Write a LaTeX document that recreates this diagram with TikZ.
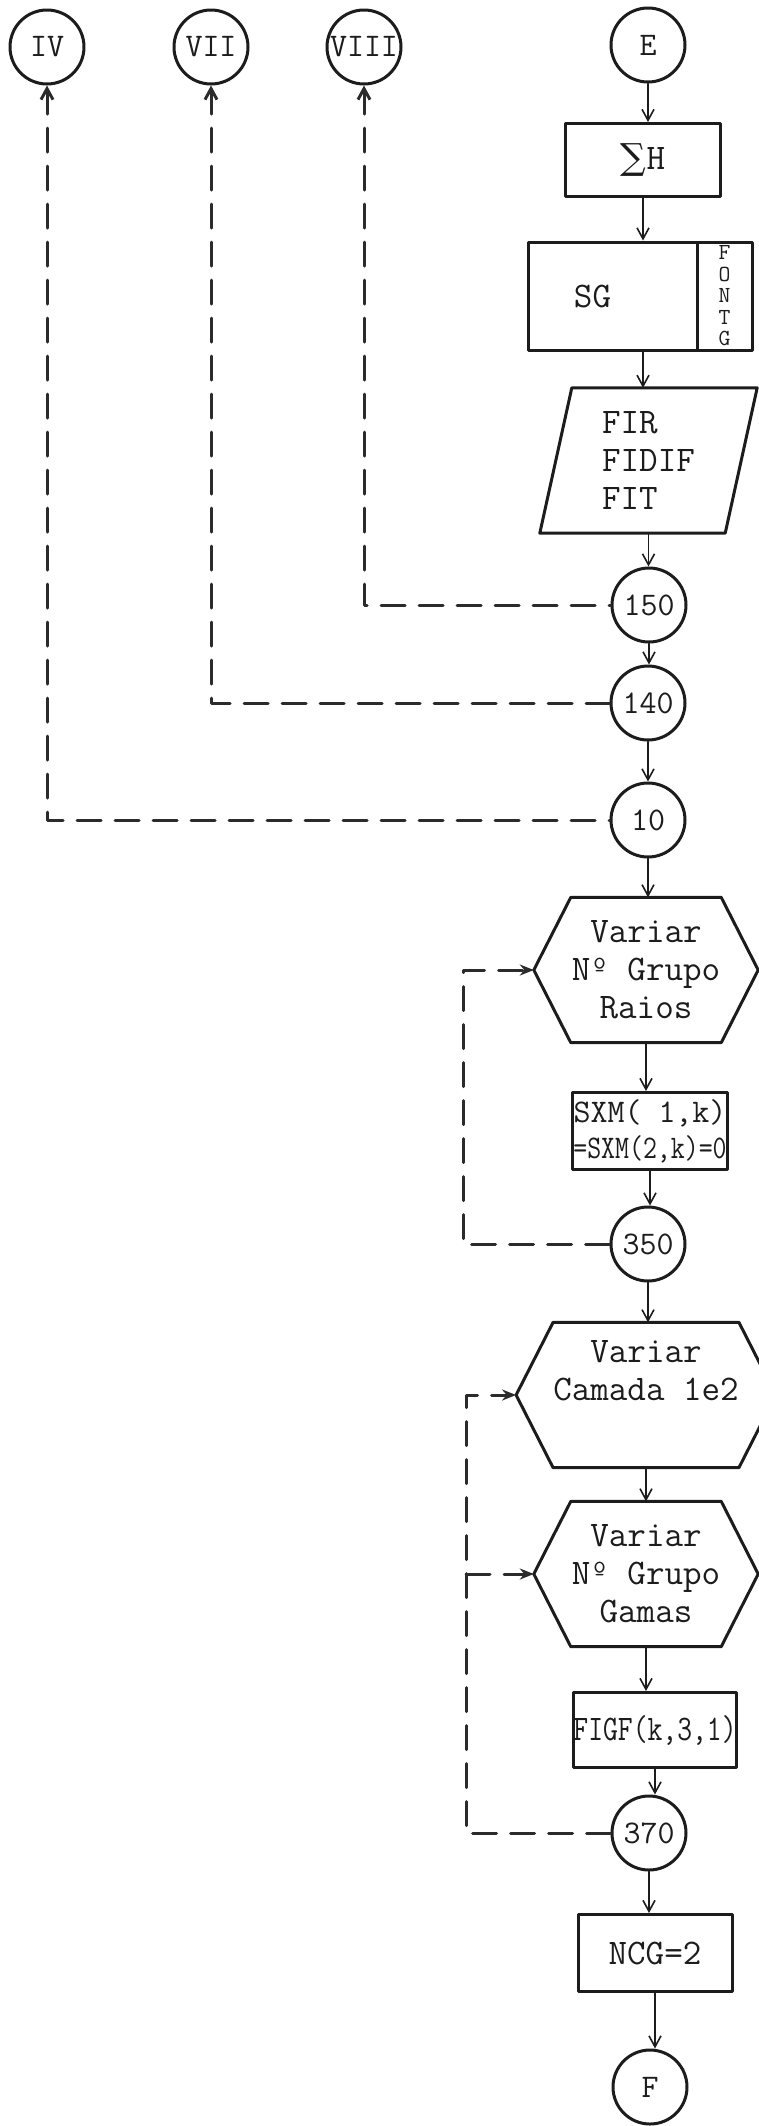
\documentclass[tikz,border=0pt]{standalone}
\usepackage{fontspec}
\usepackage{graphicx,xcolor,tikz}
\usetikzlibrary{arrows.meta,calc}
\newfontfamily\sumfont{DejaVu Serif}
\definecolor{fcInk}{HTML}{1C1C1C}
\definecolor{fcDash}{HTML}{2B2B2B}
\tikzset{
 chart/.style={line cap=round,line join=round,text=fcInk,font=\fontsize{36}{38}\selectfont\ttfamily},
 term/.style={circle,draw=fcInk,line width=3pt,inner sep=0pt,minimum size=74pt,
   font=\fontsize{33}{36}\selectfont\ttfamily},
 proc/.style={rectangle,draw=fcInk,line width=3pt,inner sep=0pt,align=center},
 hexbody/.style={rectangle,inner sep=0pt,align=center,minimum width=150pt,minimum height=145pt},
 outline/.style={draw=fcInk,line width=3pt},
 flow/.style={draw=fcInk,line width=1.6pt,-{Straight Barb[length=11pt,width=12pt]}},
 link/.style={draw=fcDash,line width=3pt,dash pattern=on 24pt off 14pt},
 tipin/.style={-{Stealth[length=14pt,width=11pt]}},
 tipout/.style={{Straight Barb[length=11pt,width=12pt]}-}
}

\begin{document}
\begin{tikzpicture}[chart,x=1pt,y=-1pt]
 \useasboundingbox (0,0) rectangle (758,2126);
 \node[term] (iv) at (47,47) {IV};
 \node[term] (vii) at (211,47) {VII};
 \node[term] (viii) at (364,47) {VIII};
 \node[term] (e) at (648,45) {E};
 \node[proc,minimum width=155pt,minimum height=73pt] (sigma) at (643,160) {{\sumfont ∑}H};
 \node[proc,minimum width=169pt,minimum height=108pt] (sg) at (612.5,296) {SG\hspace*{40pt}};
 \node[proc,minimum width=55pt,minimum height=108pt,
   font=\fontsize{23}{21.5}\selectfont\ttfamily] (fontg) at (724.5,296) {F\\O\\N\\T\\G};
 \node[hexbody,minimum width=185pt,align=left] (fir) at (648.5,460.5) {FIR\\FIDIF\\FIT};
 \draw[outline] ([xshift=16pt]fir.north west) -- ([xshift=16pt]fir.north east)
   -- ([xshift=-16pt]fir.south east) -- ([xshift=-16pt]fir.south west) -- cycle;
 \node[term] (c150) at (649,605) {150};
 \node[term] (c140) at (648,703) {140};
 \node[term] (c10) at (648,820) {10};
 \node[hexbody] (raios) at (646,970) {Variar\\Nº Grupo\\Raios};
 \node[proc,minimum width=155pt,minimum height=77pt,font=\fontsize{33}{36}\selectfont\ttfamily]
   (sxm) at (650,1131) {SXM( 1,k)\\\scalebox{.82}[1]{=SXM(2,k)=0}};
 \node[term] (c350) at (648,1244) {350};
 \node[hexbody] (camada) at (646,1395) {Variar\\Camada 1e2\\\strut};
 \node[hexbody] (gamas) at (646,1574) {Variar\\Nº Grupo\\Gamas};
 \node[proc,minimum width=155pt,minimum height=75pt] (figf) at (655,1730) {\scalebox{.8}[1]{FIGF(k,3,1)}};
 \node[term] (c370) at (649,1833) {370};
 \node[proc,minimum width=154pt,minimum height=77pt] (ncg) at (655,1953) {NCG=2};
 \node[term] (f) at (650,2087) {F};
 \foreach \h in {raios,camada,gamas}{
   \draw[outline] (\h.north west) -- (\h.north east) -- ([xshift=37pt]\h.east)
     -- (\h.south east) -- (\h.south west) -- ([xshift=-37pt]\h.west) -- cycle;
   \coordinate (\h-tip) at ([xshift=-37pt]\h.west);
 }
 \foreach \a/\b in {e/sigma,fir/c150,c150/c140,c140/c10,c10/raios,raios/sxm,sxm/c350,
   c350/camada,camada/gamas,gamas/figf,figf/c370,c370/ncg,ncg/f}
   \draw[flow] (\a.south) -- (\a.south |- \b.north);
 \draw[flow] (sigma.south) -- (sigma.south |- sg.north);
 \draw[flow] (sigma.south |- sg.south) -- (sigma.south |- fir.north);
 \draw[link,tipout] (iv.south) -- (iv.south |- c10.west) -- (c10.west);
 \draw[link,tipout] (vii.south) -- (vii.south |- c140.west) -- (c140.west);
 \draw[link,tipout] (viii.south) -- (viii.south |- c150.west) -- (c150.west);
 \coordinate (loopA) at (463,1244);
 \coordinate (loopB) at (466,1833);
 \draw[link,tipin] (c350.west) -- (loopA) |- (raios-tip);
 \draw[link,tipin] (c370.west) -- (loopB) |- (camada-tip);
 \draw[link,tipin] (loopB |- gamas-tip) -- (gamas-tip);
\end{tikzpicture}
\end{document}
